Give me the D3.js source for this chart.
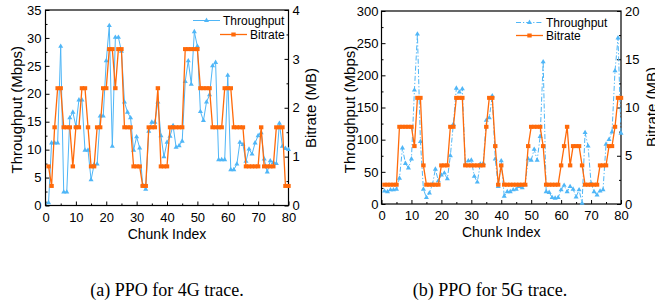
<!DOCTYPE html>
<html><head><meta charset="utf-8">
<script src="https://cdn.jsdelivr.net/npm/d3@7"></script>
<style>
html,body{margin:0;padding:0;background:#fff;}
svg{display:block;font-family:"Liberation Sans",Arial,sans-serif;}
</style>
</head><body>
<svg id="c" width="655" height="304"></svg>
<script>
// ---------- DATA ----------
const chunkTicks = [0, 10, 20, 30, 40, 50, 60, 70, 80];

// (a) 4G trace
const throughput4G = [0.5, 11.2, 11.2, 11.2, 28.5, 2.4, 2.4, 15.7, 16.7, 14.2,
  18.9, 18.9, 9.9, 9.9, 4.6, 7.3, 7.4, 16, 16, 25.9,
  32.2, 10.6, 30.1, 30.1, 27.6, 18.5, 16.7, 15.7, 9.9, 12.3,
  10.3, 3.7, 2.9, 13.3, 14.9, 14.9, 18.5, 12.5, 8.7, 11.3,
  12.4, 14.3, 10.4, 10.7, 11.5, 22.2, 25.9, 21.7, 31.1, 28.5,
  16.8, 15.2, 18.5, 19.8, 25, 25.6, 8.2, 8.2, 8.2, 23.3,
  6.4, 6.4, 7.4, 11.3, 10.9, 7.9, 10.1, 9.2, 11.2, 12.5,
  13, 8.3, 6, 8, 7.7, 7.5, 14.7, 10.6, 10.2, 10];
const bitrate4G = [0.8, 0.4, 1.6, 2.4, 2.4, 1.6, 1.6, 1.6, 0.8, 1.6,
  1.6, 2.4, 2.4, 1.6, 0.8, 0.8, 1.6, 1.6, 2.4, 2.4,
  3.2, 3.2, 2.4, 3.2, 3.2, 1.6, 1.6, 1.6, 0.8, 0.8,
  0.8, 0.4, 0.4, 1.6, 1.6, 1.6, 2.4, 0.8, 0.8, 0.8,
  1.6, 1.6, 1.6, 1.6, 1.6, 3.2, 3.2, 3.2, 3.2, 3.2,
  2.4, 2.4, 2.4, 2.4, 1.6, 1.6, 1.6, 1.6, 2.4, 2.4,
  2.4, 1.6, 1.6, 1.6, 1.6, 0.8, 0.8, 0.8, 0.8, 0.8,
  1.6, 0.8, 0.8, 0.8, 0.8, 1.6, 1.6, 1.6, 0.4, 0.4];
const tputTicks4G = [0, 5, 10, 15, 20, 25, 30, 35];
const rateTicks4G = [0, 1, 2, 3, 4];

// (b) 5G trace
const throughput5G = [20, 19, 22, 22, 23, 40, 87, 63, 56, 70,
  177, 264, 97, 23, 10, 17, 30, 54, 36, 45,
  48, 39, 75, 124, 180, 174, 179, 61, 67, 68,
  43, 34, 62, 63, 130, 134, 168, 70, 27, 67,
  12, 19, 19, 22, 23, 27, 25, 30, 70, 68,
  85, 68, 105, 221, 19, 18, 10, 9, 10, 22,
  29, 19, 27, 23, 11, 22, 1, 111, 90, 32,
  19, 14, 20, 22, 93, 100, 112, 207, 258, 110];
const bitrate5G = [2, 2, 2, 2, 2, 8, 8, 8, 8, 8,
  6, 11, 11, 4, 2, 2, 2, 2, 2, 4,
  4, 4, 8, 8, 11, 11, 11, 4, 4, 4,
  4, 4, 4, 4, 8, 11, 11, 6, 2, 4,
  2, 2, 2, 2, 2, 2, 2, 2, 6, 8,
  8, 8, 8, 6, 2, 2, 2, 2, 2, 4,
  6, 8, 4, 6, 6, 6, 4, 2, 2, 2,
  2, 2, 4, 4, 4, 6, 6, 8, 11, 11];
const tputTicks5G = [0, 50, 100, 150, 200, 250, 300];
const rateTicks5G = [0, 5, 10, 15, 20];

const seriesNames = ["Throughput", "Bitrate"];
const captions = ["(a) PPO for 4G trace.", "(b) PPO for 5G trace."];
const axisTitles = ["Chunk Index", "Throughput (Mbps)", "Bitrate (MB)"];

// ---------- STYLE ----------
const BLUE = "#4fb6f7";
const ORANGE = "#ff6a0a";

const svg = d3.select("#c");

function drawPanel(cfg) {
  const g = svg.append("g");
  const x = d3.scaleLinear().domain([0, 80]).range([cfg.x0, cfg.x1]);
  const yL = d3.scaleLinear().domain([0, cfg.tMax]).range([cfg.y1, cfg.y0]);
  const yR = d3.scaleLinear().domain([0, cfg.rMax]).range([cfg.y1, cfg.y0]);

  const minorX = [5, 15, 25, 35, 45, 55, 65, 75];
  const stepL = cfg.tTicks[1] - cfg.tTicks[0];
  const minorL = cfg.tTicks.slice(0, -1).map(v => v + stepL / 2);
  const stepR = cfg.rTicks[1] - cfg.rTicks[0];
  const minorR = cfg.rTicks.slice(0, -1).map(v => v + stepR / 2);

  // minor ticks
  g.append("g").attr("transform", `translate(0,${cfg.y1})`)
    .call(d3.axisBottom(x).tickValues(minorX).tickSize(-2).tickFormat(""))
    .call(a => a.select(".domain").remove());
  g.append("g").attr("transform", `translate(${cfg.x0},0)`)
    .call(d3.axisLeft(yL).tickValues(minorL).tickSize(-2).tickFormat(""))
    .call(a => a.select(".domain").remove());
  g.append("g").attr("transform", `translate(${cfg.x1},0)`)
    .call(d3.axisRight(yR).tickValues(minorR).tickSize(-2).tickFormat(""))
    .call(a => a.select(".domain").remove());

  // major ticks
  const ax = g.append("g").attr("transform", `translate(0,${cfg.y1})`)
    .call(d3.axisBottom(x).tickValues(chunkTicks).tickSize(-4).tickPadding(7).tickFormat(d3.format("d")));
  const al = g.append("g").attr("transform", `translate(${cfg.x0},0)`)
    .call(d3.axisLeft(yL).tickValues(cfg.tTicks).tickSize(-4).tickPadding(cfg.padL).tickFormat(d3.format("d")));
  const ar = g.append("g").attr("transform", `translate(${cfg.x1},0)`)
    .call(d3.axisRight(yR).tickValues(cfg.rTicks).tickSize(-4).tickPadding(4).tickFormat(d3.format("d")));
  [ax, al, ar].forEach(a => {
    a.select(".domain").remove();
    a.selectAll("text").attr("font-size", 13).attr("fill", "#000")
      .attr("font-family", "Liberation Sans, Arial, sans-serif");
  });
  g.selectAll(".tick line").attr("stroke", "#000").attr("stroke-width", 1);

  // frame
  g.append("rect").attr("x", cfg.x0).attr("y", cfg.y0)
    .attr("width", cfg.x1 - cfg.x0).attr("height", cfg.y1 - cfg.y0)
    .attr("fill", "none").attr("stroke", "#000").attr("stroke-width", 1.2);

  // throughput line
  const tri = d3.symbol().type(d3.symbolTriangle).size(11);
  const lineT = d3.line().x((d, i) => x(i + 1)).y(d => yL(d));
  g.append("path").datum(cfg.tput).attr("d", lineT)
    .attr("fill", "none").attr("stroke", BLUE).attr("stroke-width", 1)
    .attr("stroke-dasharray", cfg.dash || null);
  g.append("g").selectAll("path").data(cfg.tput).join("path")
    .attr("d", tri).attr("transform", (d, i) => `translate(${x(i + 1)},${yL(d)})`)
    .attr("fill", BLUE);

  // bitrate line
  const lineR = d3.line().x((d, i) => x(i + 1)).y(d => yR(d));
  g.append("path").datum(cfg.rate).attr("d", lineR)
    .attr("fill", "none").attr("stroke", ORANGE).attr("stroke-width", 1.3);
  g.append("g").selectAll("rect").data(cfg.rate).join("rect")
    .attr("x", (d, i) => x(i + 1) - 2.2).attr("y", d => yR(d) - 2)
    .attr("width", 4.4).attr("height", 4).attr("fill", ORANGE);

  // legend
  const lg = g.append("g").attr("font-size", 12);
  cfg.legend.forEach((it, k) => {
    const col = k === 0 ? BLUE : ORANGE;
    lg.append("line").attr("x1", it.lx0).attr("x2", it.lx1).attr("y1", it.y).attr("y2", it.y)
      .attr("stroke", col).attr("stroke-width", k === 0 ? 1 : 1.3)
      .attr("stroke-dasharray", k === 0 ? (cfg.dash || null) : null);
    const mx = (it.lx0 + it.lx1) / 2;
    if (k === 0) lg.append("path").attr("d", tri).attr("transform", `translate(${mx},${it.y})`).attr("fill", col);
    else lg.append("rect").attr("x", mx - 2.2).attr("y", it.y - 2).attr("width", 4.4).attr("height", 4).attr("fill", col);
    lg.append("text").attr("x", it.lx1 + 3).attr("y", it.y + 4.3).text(seriesNames[k]);
  });

  // axis titles
  g.append("text").attr("x", (cfg.x0 + cfg.x1) / 2).attr("y", cfg.y1 + 33)
    .attr("text-anchor", "middle").attr("font-size", 14).text(axisTitles[0]);
  g.append("text").attr("transform", `translate(${cfg.tlx},${(cfg.y0 + cfg.y1) / 2 + 2}) rotate(-90)`)
    .attr("text-anchor", "middle").attr("font-size", 15).text(axisTitles[1]);
  g.append("text").attr("transform", `translate(${cfg.trx},${cfg.trY}) rotate(-90)`)
    .attr("text-anchor", "middle").attr("font-size", 15).text(axisTitles[2]);

  // caption
  svg.append("text").attr("x", cfg.capX).attr("y", 296).attr("text-anchor", "middle")
    .attr("font-family", "Liberation Serif, Times New Roman, serif").attr("font-size", 18)
    .text(cfg.caption);
}

drawPanel({
  x0: 45.5, x1: 288.5, y0: 10, y1: 205.5,
  tMax: 35, rMax: 4, tTicks: tputTicks4G, rTicks: rateTicks4G, padL: 4,
  tput: throughput4G, rate: bitrate4G, dash: null,
  legend: [{lx0: 193, lx1: 220, y: 20.5}, {lx0: 220, lx1: 247, y: 34.5}],
  tlx: 22, trx: 316, trY: 108, capX: 167, caption: captions[0]
});
drawPanel({
  x0: 381.5, x1: 621, y0: 11, y1: 204,
  tMax: 300, rMax: 20, tTicks: tputTicks5G, rTicks: rateTicks5G, padL: 3,
  tput: throughput5G, rate: bitrate5G, dash: "5,2,1.2,2",
  legend: [{lx0: 516, lx1: 543, y: 22.5}, {lx0: 516, lx1: 543, y: 35.5}],
  tlx: 355, trx: 657, trY: 107, capX: 490, caption: captions[1]
});
</script>
</body></html>
